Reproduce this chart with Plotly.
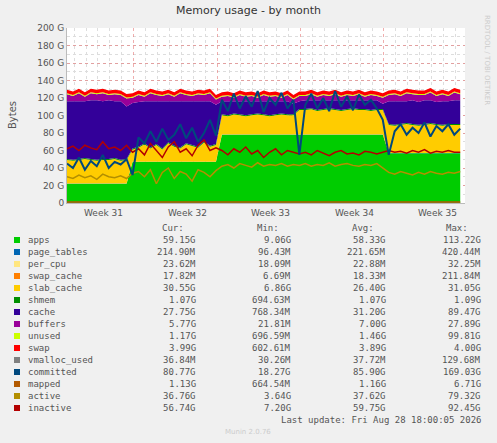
import plotly.graph_objects as go

# half-day samples over ~33 days (Week 31 .. Week 35)
days = [i * 0.5 for i in range(67)]

apps = [22] * 11 + [47] * 15 + [78] * 13 + [78] * 15 + [57] * 12 + [57]
page_tables = [0.22] * 67
per_cpu = [0.02] * 67
swap_cache = [0.02] * 67
slab_cache = ([27, 26, 27, 28, 27, 26, 27, 27, 28, 26, 27]
              + [14, 16, 20, 15, 19, 14, 21, 17, 15, 20, 18, 16, 22, 17, 19]
              + [22, 21, 23, 22, 21, 22, 23, 22, 21, 22, 23, 22, 22]
              + [28, 28, 29, 27, 28, 29, 28, 27, 28, 29, 28, 28, 27, 28, 28]
              + [32, 31, 32, 33, 32, 31, 32, 33, 32, 31, 32, 32, 32])
shmem = [1.07] * 67
cache = ([66, 67, 66, 65, 67, 68, 66, 67, 65, 67, 60]
         + [52, 51, 48, 53, 49, 54, 47, 51, 53, 48, 50, 52, 46, 51, 45]
         + [15, 16, 14, 15, 16, 15, 14, 15, 16, 15, 14, 15, 12]
         + [9, 10, 9, 11, 10, 9, 10, 11, 10, 9, 10, 10, 11, 10, 6]
         + [26, 27, 26, 25, 27, 26, 27, 26, 25, 27, 26, 27, 27])
buffers = ([8, 6, 9, 5, 8, 7, 9, 6, 8, 7, 9]
           + [6, 8, 5, 9, 7, 6, 8, 5, 9, 7, 6, 8, 7, 9, 6]
           + [5, 6, 4, 7, 5, 6, 4, 7, 5, 6, 4, 7, 5]
           + [6, 5, 7, 4, 6, 5, 7, 4, 6, 5, 7, 4, 6, 5, 7]
           + [7, 8, 6, 9, 7, 8, 6, 9, 7, 8, 6, 9, 7])
unused = [1.2] * 67
swap = [4.0] * 67

committed = ([45, 40, 52, 38, 48, 42, 55, 40, 47, 44, 50]
             + [32, 75, 68, 82, 70, 85, 72, 78, 90, 74, 86, 70, 80, 95, 77]
             + [118, 105, 125, 108, 122, 110, 128, 104, 120, 112, 126, 108, 118]
             + [55, 112, 125, 108, 120, 105, 128, 110, 122, 106, 124, 112, 118, 108, 95]
             + [55, 82, 90, 78, 86, 80, 92, 76, 88, 82, 90, 78, 85])
inactive = ([62, 65, 60, 66, 63, 61, 70, 62, 64, 60, 66]
            + [58, 62, 55, 68, 60, 52, 64, 70, 58, 62, 54, 66, 72, 60, 63]
            + [60, 55, 62, 58, 64, 56, 60, 52, 58, 62, 55, 60, 58]
            + [56, 58, 55, 60, 57, 54, 58, 60, 56, 57, 55, 59, 58, 56, 58]
            + [60, 58, 59, 57, 60, 58, 61, 57, 59, 58, 60, 58, 58])
active = ([30, 28, 32, 29, 31, 27, 33, 30, 29, 31, 28]
          + [34, 36, 30, 38, 22, 35, 40, 28, 36, 33, 25, 38, 35, 30, 37]
          + [42, 44, 40, 45, 43, 41, 46, 42, 44, 43, 45, 42, 44]
          + [43, 45, 42, 44, 43, 46, 42, 44, 45, 43, 42, 44, 43, 45, 40]
          + [35, 33, 36, 34, 32, 35, 33, 36, 34, 33, 35, 34, 36])
mapped = [1.15] * 67
vmalloc_used = [0.04] * 67

week_labels = ["Week 31", "Week 32", "Week 33", "Week 34", "Week 35"]
week_pos = [3.1, 10.1, 17.1, 24.1, 31.1]

legend_rows = [
    ("apps", "#00CC00", "59.15G", "9.06G", "58.33G", "113.22G"),
    ("page_tables", "#0066B3", "214.90M", "96.43M", "221.65M", "420.44M"),
    ("per_cpu", "#FFE680", "23.62M", "18.09M", "22.88M", "32.25M"),
    ("swap_cache", "#FF8000", "17.82M", "6.69M", "18.33M", "211.84M"),
    ("slab_cache", "#FFCC00", "30.55G", "6.86G", "26.40G", "31.05G"),
    ("shmem", "#008F00", "1.07G", "694.63M", "1.07G", "1.09G"),
    ("cache", "#330099", "27.75G", "768.34M", "31.20G", "89.47G"),
    ("buffers", "#990099", "5.77G", "21.81M", "7.00G", "27.89G"),
    ("unused", "#CCFF00", "1.17G", "696.59M", "1.46G", "99.81G"),
    ("swap", "#FF0000", "3.99G", "602.61M", "3.89G", "4.00G"),
    ("vmalloc_used", "#808080", "36.84M", "30.26M", "37.72M", "129.68M"),
    ("committed", "#00487D", "80.77G", "18.27G", "85.90G", "169.03G"),
    ("mapped", "#B35A00", "1.13G", "664.54M", "1.16G", "6.71G"),
    ("active", "#B38F00", "36.76G", "3.64G", "37.62G", "79.32G"),
    ("inactive", "#B30000", "56.74G", "7.20G", "59.75G", "92.45G"),
]

fig = go.Figure()

areas = [("apps", apps, "#00CC00"), ("page_tables", page_tables, "#0066B3"),
         ("per_cpu", per_cpu, "#FFE680"), ("swap_cache", swap_cache, "#FF8000"),
         ("slab_cache", slab_cache, "#FFCC00"), ("shmem", shmem, "#008F00"),
         ("cache", cache, "#330099"), ("buffers", buffers, "#990099"),
         ("unused", unused, "#CCFF00"), ("swap", swap, "#FF0000")]
for name, vals, col in areas:
    fig.add_trace(go.Scatter(x=days, y=vals, name=name, stackgroup="one",
                             mode="lines", line=dict(width=0, color=col),
                             fillcolor=col))

lines = [("vmalloc_used", vmalloc_used, "#808080", 1), ("mapped", mapped, "#B35A00", 1.5),
         ("active", active, "#B38F00", 1.5), ("inactive", inactive, "#B30000", 1.5),
         ("committed", committed, "#00487D", 2)]
for name, vals, col, w in lines:
    fig.add_trace(go.Scatter(x=days, y=vals, name=name, mode="lines",
                             line=dict(width=w, color=col)))

# pixel -> paper helpers (plot area 67..465 x, 28..203 y)
def px(x):
    return (x - 67) / 398

def py(y):
    return (203 - y) / 175

mono = dict(family="DejaVu Sans Mono", size=9, color="#555555")
ann = []

def note(x, y, text, font, xanchor="center", **kw):
    ann.append(dict(x=x, y=y, xref=kw.pop("xref", "paper"), yref="paper", text=text,
                    xanchor=xanchor, yanchor="middle", showarrow=False, font=font, **kw))

for lab, pos in zip(week_labels, week_pos):
    note(pos, py(213), lab, dict(family="DejaVu Sans", size=9, color="#555555"), xref="x")
for hdr, xr in zip(["Cur:", "Min:", "Avg:", "Max:"], [186, 281, 376, 470]):
    note(px(xr), py(228), hdr, mono, "right")
shapes = []
for i, row in enumerate(legend_rows):
    yy = 240 + i * 12
    shapes.append(dict(type="rect", xref="paper", yref="paper",
                       x0=px(14), x1=px(20), y0=py(yy + 3), y1=py(yy - 3),
                       fillcolor=row[1], line=dict(width=0)))
    note(px(26), py(yy), row[0], mono, "left")
    for val, xr in zip(row[2:], [198, 293, 388, 483]):
        note(px(xr), py(yy), val, mono, "right")
note(px(483), py(420), "Last update: Fri Aug 28 18:00:05 2026", mono, "right")
note(px(248), py(432), "Munin 2.0.76", dict(family="DejaVu Sans", size=7, color="#cccccc"))
note(px(12), py(115), "Bytes", dict(family="DejaVu Sans", size=10, color="#555555"), textangle=-90)
note(px(487), py(60), "RRDTOOL / TOBI OETIKER", dict(family="DejaVu Sans", size=7, color="#cccccc"),
     textangle=90)
note(px(248), py(11), "Memory usage - by month", dict(family="DejaVu Sans", size=11, color="#333333"))

fig.update_layout(
    width=497, height=443, margin=dict(l=67, r=32, t=28, b=240),
    paper_bgcolor="#F0F0F0", plot_bgcolor="#FFFFFF", showlegend=False,
    annotations=ann, shapes=shapes,
    xaxis=dict(range=[0, 33.4], tick0=5.6, dtick=7, showticklabels=False,
               gridcolor="rgba(230,120,120,0.6)", griddash="dot", zeroline=False,
               minor=dict(dtick=1, tick0=0.6, showgrid=True, gridcolor="#dddddd", griddash="dot"),
               showline=True, linecolor="#bbbbbb"),
    yaxis=dict(range=[0, 200], tickvals=list(range(0, 201, 20)),
               ticktext=["0"] + ["%d G" % v for v in range(20, 201, 20)],
               tickfont=dict(family="DejaVu Sans", size=9, color="#555555"),
               gridcolor="rgba(230,120,120,0.6)", griddash="dot", zeroline=False,
               minor=dict(dtick=10, showgrid=True, gridcolor="#dddddd", griddash="dot"),
               showline=True, linecolor="#bbbbbb"),
)

fig.write_html("out.html", config={"displayModeBar": False},
               post_script="document.body.style.margin='0';document.body.style.background='#F0F0F0';")
